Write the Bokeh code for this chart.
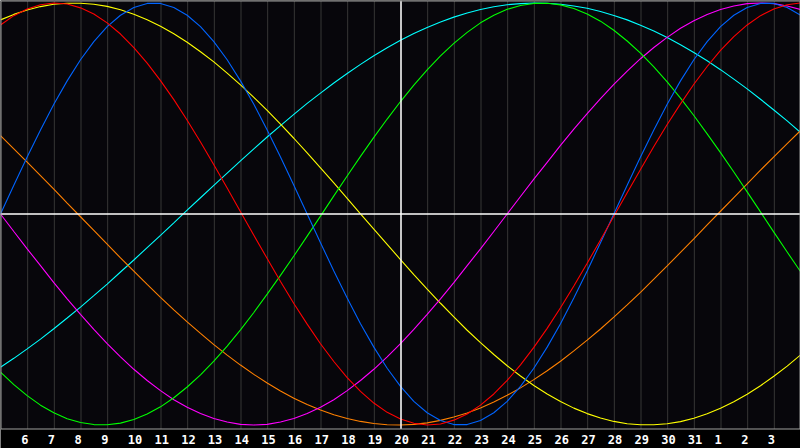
from bokeh.plotting import figure
from bokeh.models import Range1d
from bokeh.core.properties import value
from bokeh.embed import file_html
from bokeh.resources import INLINE

# ---- data ----
# day positions in half-day steps: 0 = left edge (day 5), 1 = day 6 ... 29 = day 3, 30 = right edge
day_pos = [i / 2 for i in range(61)]
tick_pos = list(range(1, 30))
day_labels = ["6", "7", "8", "9", "10", "11", "12", "13", "14", "15", "16", "17",
              "18", "19", "20", "21", "22", "23", "24", "25", "26", "27", "28",
              "29", "30", "31", "1", "2", "3"]
today_pos = 15  # day 20

# cycle values (-1 .. 1) at each half-day position
physical = [0.000, 0.136, 0.270, 0.398, 0.520, 0.631, 0.731, 0.817, 0.888, 0.942,
            0.979, 0.998, 0.998, 0.979, 0.942, 0.888, 0.817, 0.731, 0.631, 0.520,
            0.398, 0.270, 0.136, 0.000, -0.136, -0.270, -0.398, -0.520, -0.631, -0.731,
            -0.817, -0.888, -0.942, -0.979, -0.998, -0.998, -0.979, -0.942, -0.888, -0.817,
            -0.731, -0.631, -0.520, -0.398, -0.270, -0.136, 0.000, 0.136, 0.270, 0.398,
            0.520, 0.631, 0.731, 0.817, 0.888, 0.942, 0.979, 0.998, 0.998, 0.979, 0.942]
emotional = [0.896, 0.940, 0.972, 0.992, 1.000, 0.995, 0.977, 0.948, 0.906, 0.853,
             0.789, 0.715, 0.632, 0.542, 0.444, 0.341, 0.233, 0.123, 0.011, -0.101,
             -0.211, -0.320, -0.424, -0.522, -0.615, -0.699, -0.775, -0.841, -0.896, -0.940,
             -0.972, -0.992, -1.000, -0.995, -0.977, -0.948, -0.906, -0.853, -0.789, -0.715,
             -0.632, -0.542, -0.444, -0.341, -0.233, -0.123, -0.011, 0.101, 0.211, 0.320,
             0.424, 0.522, 0.615, 0.699, 0.775, 0.841, 0.896, 0.940, 0.972, 0.992, 1.000]
intellectual = [-0.749, -0.809, -0.861, -0.906, -0.942, -0.970, -0.988, -0.998, -0.999, -0.991,
                -0.974, -0.948, -0.914, -0.871, -0.820, -0.762, -0.697, -0.626, -0.549, -0.467,
                -0.380, -0.291, -0.199, -0.105, -0.010, 0.086, 0.180, 0.273, 0.363, 0.450,
                0.533, 0.611, 0.683, 0.749, 0.809, 0.861, 0.906, 0.942, 0.970, 0.988,
                0.998, 0.999, 0.991, 0.974, 0.948, 0.914, 0.871, 0.820, 0.762, 0.697,
                0.626, 0.549, 0.467, 0.380, 0.291, 0.199, 0.105, 0.010, -0.086, -0.180, -0.273]
intuitive = [0.000, -0.083, -0.165, -0.245, -0.325, -0.402, -0.476, -0.547, -0.614, -0.677,
             -0.736, -0.789, -0.837, -0.880, -0.916, -0.946, -0.969, -0.986, -0.997, -1.000,
             -0.997, -0.986, -0.969, -0.946, -0.916, -0.880, -0.837, -0.789, -0.736, -0.677,
             -0.614, -0.547, -0.476, -0.402, -0.325, -0.245, -0.165, -0.083, 0.000, 0.083,
             0.165, 0.245, 0.325, 0.402, 0.476, 0.547, 0.614, 0.677, 0.736, 0.789,
             0.837, 0.880, 0.916, 0.946, 0.969, 0.986, 0.997, 1.000, 0.997, 0.986, 0.969]
aesthetic = [0.920, 0.946, 0.967, 0.983, 0.994, 0.999, 0.999, 0.994, 0.984, 0.968,
             0.947, 0.921, 0.890, 0.854, 0.814, 0.769, 0.721, 0.668, 0.612, 0.553,
             0.491, 0.426, 0.359, 0.290, 0.219, 0.147, 0.074, 0.001, -0.072, -0.144,
             -0.216, -0.287, -0.356, -0.423, -0.488, -0.551, -0.610, -0.666, -0.719, -0.768,
             -0.813, -0.853, -0.889, -0.920, -0.946, -0.967, -0.983, -0.994, -0.999, -0.999,
             -0.994, -0.984, -0.968, -0.947, -0.921, -0.890, -0.854, -0.814, -0.769, -0.721, -0.668]
awareness = [0.371, 0.309, 0.246, 0.182, 0.118, 0.052, -0.013, -0.078, -0.143, -0.208,
             -0.271, -0.334, -0.395, -0.454, -0.511, -0.566, -0.619, -0.669, -0.716, -0.760,
             -0.801, -0.839, -0.873, -0.903, -0.929, -0.951, -0.969, -0.983, -0.993, -0.999,
             -1.000, -0.997, -0.990, -0.978, -0.962, -0.943, -0.919, -0.891, -0.859, -0.824,
             -0.785, -0.743, -0.698, -0.649, -0.598, -0.545, -0.489, -0.431, -0.371, -0.309,
             -0.246, -0.182, -0.118, -0.052, 0.013, 0.078, 0.143, 0.208, 0.271, 0.334, 0.395]
spiritual = [-0.726, -0.684, -0.639, -0.593, -0.544, -0.493, -0.441, -0.387, -0.332, -0.275,
             -0.218, -0.159, -0.101, -0.042, 0.018, 0.077, 0.136, 0.194, 0.252, 0.309,
             0.365, 0.419, 0.472, 0.524, 0.573, 0.621, 0.666, 0.709, 0.750, 0.788,
             0.823, 0.855, 0.884, 0.910, 0.933, 0.953, 0.969, 0.982, 0.992, 0.997,
             1.000, 0.999, 0.994, 0.986, 0.975, 0.960, 0.941, 0.920, 0.895, 0.867,
             0.836, 0.802, 0.765, 0.726, 0.684, 0.639, 0.593, 0.544, 0.493, 0.441, 0.387]

series = [
    (spiritual, "#00ffff"),
    (awareness, "#ff8000"),
    (aesthetic, "#ffff00"),
    (intuitive, "#ff00ff"),
    (intellectual, "#00ff00"),
    (physical, "#0064ff"),
    (emotional, "#ff0000"),
]

# ---- layout ----
W, H = 800, 448
AMP = 211.0            # pixels for a value of 1
CENTER = 213.5         # pixel row of value 0
V_TOP = CENTER / AMP
V_BOT = (CENTER - H) / AMP
V_AXIS = (CENTER - 428.5) / AMP
V_LABEL = (CENTER - 439.0) / AMP
PX = 30.0 / W
HALF = 0.5 * PX        # half-pixel shift for crisp vertical lines

p = figure(width=W, height=H, x_range=Range1d(0, 30), y_range=Range1d(V_BOT, V_TOP),
           output_backend="svg", toolbar_location=None, min_border=0,
           x_axis_location=None, y_axis_location=None,
           background_fill_color="#000000", border_fill_color="#000000",
           outline_line_color=None)
p.grid.visible = False
p.styles = {"position": "absolute", "left": "0px", "top": "0px"}

# plot area
p.quad(left=0, right=30, top=V_TOP, bottom=V_AXIS, fill_color="#07060b", line_color=None)

# vertical day grid
gx = [t + HALF for t in tick_pos]
p.segment(x0=gx, y0=[V_AXIS] * len(gx), x1=gx, y1=[V_TOP] * len(gx),
          line_color="#363636", line_width=1)

# curves
for vals, col in series:
    p.line(day_pos, vals, line_color=col, line_width=1.1)

# center lines
p.segment(x0=[0], y0=[0], x1=[30], y1=[0], line_color="#ffffff", line_width=1.5)
p.segment(x0=[today_pos + HALF], y0=[V_AXIS], x1=[today_pos + HALF], y1=[V_TOP],
          line_color="#ffffff", line_width=1.5)

# border
p.quad(left=HALF, right=30 - HALF, top=V_TOP - 0.5 / AMP, bottom=V_AXIS,
       fill_color=None, line_color="#a0a0a0", line_width=1)

# day labels
p.text(x=tick_pos, y=[V_LABEL] * len(tick_pos), text=day_labels,
       text_font=value("DejaVu Sans Mono"), text_font_style="bold", text_font_size="12px",
       text_color="#ffffff", text_align="left", text_baseline="middle", x_offset=-6)

open("out.html", "w").write(file_html(p, INLINE))
